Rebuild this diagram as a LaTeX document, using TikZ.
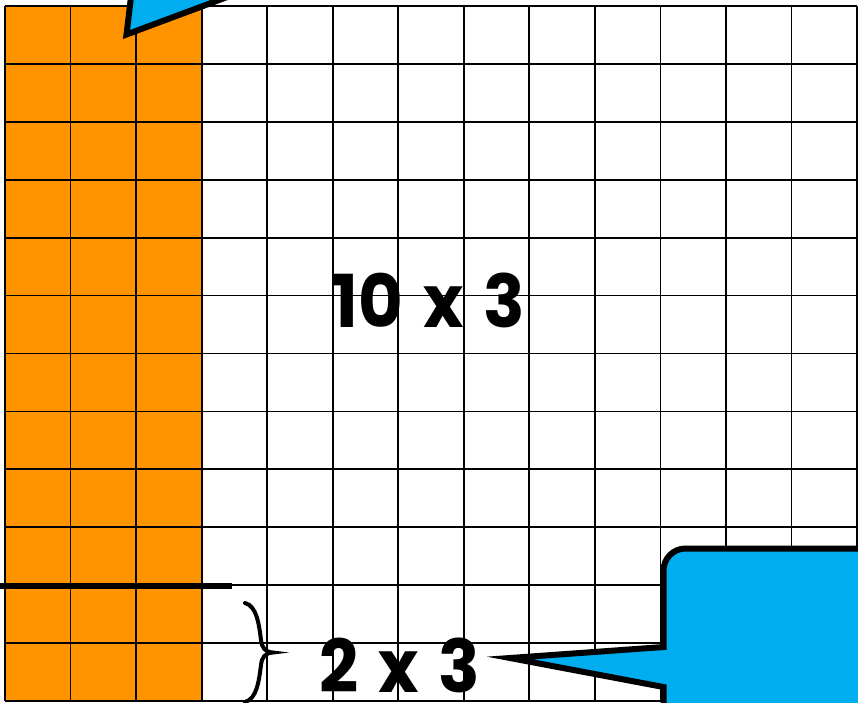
\documentclass[tikz,border=0pt]{standalone}
\usepackage{fontspec}
\setmainfont{Poppins}
\newfontfamily\labelfont[FakeStretch=0.94]{Poppins}
\definecolor{gridorange}{RGB}{255,147,0}
\definecolor{callcyan}{RGB}{0,174,239}
\begin{document}
\begin{tikzpicture}[x=1pt,y=-1pt,
  gridline/.style={line width=1.8pt, draw=black},
  callout/.style={fill=callcyan, draw=black, line width=6pt, line join=miter, miter limit=12},
  bigtext/.style={font=\labelfont\fontsize{73}{80}\selectfont\bfseries, inner sep=0pt}]
\useasboundingbox (0,0) rectangle (858,702);
\clip (0,0) rectangle (858,702);
% orange columns
\fill[gridorange] (5,6) rectangle (201.6,701);
% grid
\foreach \i in {0,...,13} \draw[gridline] ({5+65.54*\i},6) -- ({5+65.54*\i},701);
\foreach \j in {0,...,12} \draw[gridline] (5,{6+57.917*\j}) -- (857,{6+57.917*\j});
% top-left callout pointer
\coordinate (toptip) at (126.5,34.5);
\draw[callout] (toptip) -- (136,-45) -- (340,-45) -- cycle;
% thick separator line
\coordinate (sepL) at (0,586);
\coordinate (sepR) at (232,586);
\draw[line width=5.5pt] (sepL) -- (sepR);
% brace
\draw[line width=4pt, line cap=round]
  (245,603) .. controls (257,606) and (259,625) .. (261,640)
  .. controls (262,648) and (265,652) .. (273,652.5)
  .. controls (265,653) and (262,657) .. (261,665)
  .. controls (259,680) and (257,699) .. (245,702);
% labels
\node[bigtext] (big) at (429,300) {10\hspace{20pt}x\hspace{20pt}3};
\node[bigtext] (small) at (400,665) {2\hspace{20pt}x\hspace{20pt}3};
% bottom-right callout
\coordinate (bottip) at (510,658);
\draw[callout] (900,548.5) -- (685.5,548.5)
  arc[start angle=270, end angle=180, radius=22]
  -- (663.5,647) -- (bottip) -- (663.5,687) -- (663.5,740) -- (900,740) -- cycle;
\end{tikzpicture}
\end{document}
